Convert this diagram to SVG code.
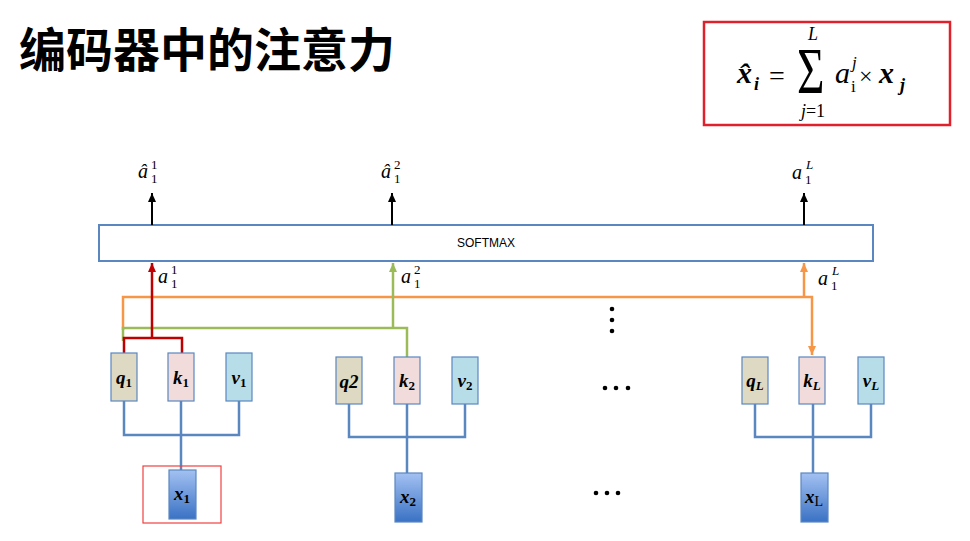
<svg xmlns="http://www.w3.org/2000/svg" width="970" height="541" viewBox="0 0 970 541">
<defs>
<style>
.title{font-family:"Noto Sans CJK SC","Noto Sans",sans-serif;font-weight:bold;font-size:47px;fill:#000}
.m{font-family:"Liberation Serif","DejaVu Serif",serif;font-style:italic;fill:#000}
.n{font-family:"Liberation Serif","DejaVu Serif",serif;font-style:normal;fill:#000}
.b{font-weight:bold}
.lbl{font-family:"Liberation Serif","DejaVu Serif",serif;font-style:italic;font-weight:bold;font-size:19px;fill:#000}
.sub{font-size:13px}
.sd{font-size:13px;font-style:normal}
.box{stroke:#5a87c0;stroke-width:1.2}
.q{fill:#ddd9c3}.k{fill:#f2dcdb}.v{fill:#b7dde8}
.x{fill:url(#xg)}
.bl{fill:none;stroke:#5a87c0;stroke-width:2.5}
.red{fill:none;stroke:#c00000;stroke-width:2.5}
.grn{fill:none;stroke:#9bbb59;stroke-width:2.5}
.org{fill:none;stroke:#f79646;stroke-width:2.5}
.blk{fill:none;stroke:#000;stroke-width:2}
.dot{fill:#000}
</style>
<linearGradient id="xg" x1="0" y1="0" x2="0" y2="1">
<stop offset="0" stop-color="#a3c1f2"/>
<stop offset="1" stop-color="#3a72c4"/>
</linearGradient>
<marker id="ak" markerWidth="9" markerHeight="8" refX="9" refY="4" orient="auto" markerUnits="userSpaceOnUse" viewBox="0 0 9 8"><path d="M0,0 L9,4 L0,8 Z" fill="#000"/></marker>
<marker id="ar" markerWidth="9" markerHeight="8" refX="9" refY="4" orient="auto" markerUnits="userSpaceOnUse" viewBox="0 0 9 8"><path d="M0,0 L9,4 L0,8 Z" fill="#c00000"/></marker>
<marker id="ag" markerWidth="9" markerHeight="8" refX="9" refY="4" orient="auto" markerUnits="userSpaceOnUse" viewBox="0 0 9 8"><path d="M0,0 L9,4 L0,8 Z" fill="#9bbb59"/></marker>
<marker id="ao" markerWidth="9" markerHeight="8" refX="9" refY="4" orient="auto" markerUnits="userSpaceOnUse" viewBox="0 0 9 8"><path d="M0,0 L9,4 L0,8 Z" fill="#f79646"/></marker>
</defs>
<rect width="970" height="541" fill="#fff"/>
<text class="title" x="19" y="67">编码器中的注意力</text>

<g id="formula">
<rect x="704" y="22" width="246" height="103" fill="#fff" stroke="#e0202a" stroke-width="2.5"/>
<text class="m b" x="737" y="83" font-size="30">x̂</text>
<text class="m b" x="754" y="90" font-size="18">i</text>
<text class="n" x="769" y="85" font-size="28">=</text>
<text class="n" transform="translate(797,93) scale(1.05,1.45)" font-size="45">Σ</text>
<text class="m" x="813" y="40" font-size="18" text-anchor="middle">L</text>
<text class="m" x="813" y="117" font-size="18" text-anchor="middle">j<tspan class="n">=1</tspan></text>
<text class="m" x="835" y="83" font-size="30">a</text>
<text class="m" x="852" y="68" font-size="17">j</text>
<text class="n" x="851" y="92" font-size="17">i</text>
<text class="n" x="859" y="84" font-size="24">×</text>
<text class="m b" x="879" y="83" font-size="30">x</text>
<text class="m b" x="900" y="91" font-size="18">j</text>
</g>

<g id="softmax">
<rect x="99" y="225" width="774" height="36" fill="#fff" stroke="#5a87c0" stroke-width="2"/>
<text x="486" y="247" font-family="Liberation Sans, Arial, sans-serif" font-size="12" text-anchor="middle" fill="#000">SOFTMAX</text>
</g>

<g id="connectors">
<line class="blk" x1="152" y1="225" x2="152" y2="193" marker-end="url(#ak)"/>
<line class="blk" x1="392" y1="225" x2="392" y2="193" marker-end="url(#ak)"/>
<line class="blk" x1="804" y1="225" x2="804" y2="193" marker-end="url(#ak)"/>
<polyline class="org" points="123,330 123,297 812,297 812,355" marker-end="url(#ao)"/>
<line class="org" x1="804" y1="297" x2="804" y2="263" marker-end="url(#ao)"/>
<polyline class="grn" points="123,341 123,328 407,328 407,357"/>
<line class="grn" x1="393" y1="328" x2="393" y2="263" marker-end="url(#ag)"/>
<polyline class="red" points="124,353 124,338 182,338 182,353"/>
<line class="red" x1="152" y1="338" x2="152" y2="263" marker-end="url(#ar)"/>
<polyline class="bl" points="124,401 124,435 239,435 239,401"/>
<line class="bl" x1="181" y1="401" x2="181" y2="471"/>
<polyline class="bl" points="349,404 349,437 465,437 465,404"/>
<line class="bl" x1="407" y1="404" x2="407" y2="474"/>
<polyline class="bl" points="755,404 755,437 871,437 871,404"/>
<line class="bl" x1="813" y1="404" x2="813" y2="474"/>
</g>

<g id="labels">
<text class="m" x="138" y="178" font-size="20">â</text><text class="n" x="151" y="169" font-size="13">1</text><text class="n" x="151" y="183" font-size="13">1</text>
<text class="m" x="381" y="178" font-size="20">â</text><text class="n" x="394" y="169" font-size="13">2</text><text class="n" x="394" y="183" font-size="13">1</text>
<text class="m" x="792" y="179" font-size="20">a</text><text class="m" x="806" y="169" font-size="13">L</text><text class="n" x="805" y="184" font-size="13">1</text>
<text class="m" x="158" y="283" font-size="20">a</text><text class="n" x="171" y="274" font-size="13">1</text><text class="n" x="171" y="288" font-size="13">1</text>
<text class="m" x="401" y="283" font-size="20">a</text><text class="n" x="414" y="274" font-size="13">2</text><text class="n" x="414" y="288" font-size="13">1</text>
<text class="m" x="818" y="285" font-size="20">a</text><text class="m" x="832" y="275" font-size="13">L</text><text class="n" x="831" y="290" font-size="13">1</text>
</g>

<g id="q1"><rect class="box q" x="111" y="353" width="26" height="48"/><text class="lbl" x="124" y="384" text-anchor="middle">q<tspan class="sd" dy="3">1</tspan></text></g>
<g id="k1"><rect class="box k" x="168" y="353" width="26" height="48"/><text class="lbl" x="181" y="384" text-anchor="middle">k<tspan class="sd" dy="3">1</tspan></text></g>
<g id="v1"><rect class="box v" x="226" y="353" width="26" height="48"/><text class="lbl" x="239" y="384" text-anchor="middle">v<tspan class="sd" dy="3">1</tspan></text></g>

<g id="q2"><rect class="box q" x="336" y="357" width="26" height="47"/><text class="lbl" x="349" y="388" text-anchor="middle">q2</text></g>
<g id="k2"><rect class="box k" x="394" y="357" width="26" height="47"/><text class="lbl" x="407" y="387" text-anchor="middle">k<tspan class="sd" dy="3">2</tspan></text></g>
<g id="v2"><rect class="box v" x="452" y="357" width="26" height="47"/><text class="lbl" x="465" y="387" text-anchor="middle">v<tspan class="sd" dy="3">2</tspan></text></g>

<g id="qL"><rect class="box q" x="742" y="357" width="26" height="47"/><text class="lbl" x="755" y="387" text-anchor="middle">q<tspan class="sub" dy="3">L</tspan></text></g>
<g id="kL"><rect class="box k" x="799" y="357" width="26" height="47"/><text class="lbl" x="812" y="387" text-anchor="middle">k<tspan class="sub" dy="3">L</tspan></text></g>
<g id="vL"><rect class="box v" x="858" y="357" width="26" height="47"/><text class="lbl" x="871" y="387" text-anchor="middle">v<tspan class="sub" dy="3">L</tspan></text></g>

<g id="x1"><rect x="143" y="466" width="78" height="57" fill="none" stroke="#f04040" stroke-width="1.2"/><rect class="box x" x="169" y="470" width="27" height="49"/><text class="lbl" x="182" y="500" text-anchor="middle">x<tspan class="sd" dy="3">1</tspan></text></g>
<g id="x2"><rect class="box x" x="395" y="473" width="27" height="49"/><text class="lbl" x="408" y="503" text-anchor="middle">x<tspan class="sd" dy="3">2</tspan></text></g>
<g id="xL"><rect class="box x" x="801" y="473" width="27" height="49"/><text class="lbl" x="814" y="503" text-anchor="middle">x<tspan dy="3" style="font-size:14px;font-weight:normal;font-style:normal">L</tspan></text></g>

<g id="dots">
<circle class="dot" cx="612" cy="309" r="2.3"/><circle class="dot" cx="612" cy="320" r="2.3"/><circle class="dot" cx="612" cy="331" r="2.3"/>
<circle class="dot" cx="605" cy="388" r="2.3"/><circle class="dot" cx="616" cy="388" r="2.3"/><circle class="dot" cx="628" cy="388" r="2.3"/>
<circle class="dot" cx="596" cy="493" r="2.3"/><circle class="dot" cx="607" cy="493" r="2.3"/><circle class="dot" cx="618" cy="493" r="2.3"/>
</g>
</svg>
